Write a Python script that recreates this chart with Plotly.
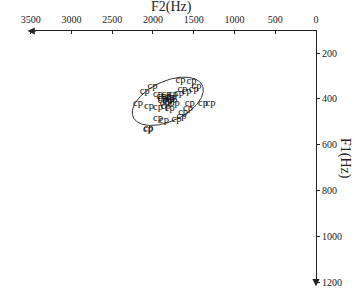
import numpy as np
import plotly.graph_objects as go

# F2 (Hz) and F1 (Hz) of each "cp" token
f2 = [1662, 1527, 2101, 2006, 1937, 1834, 1753, 1638, 1588, 1499, 1466, 1883, 1794,
      1732, 1855, 2183, 2048, 1937, 1843, 1794, 1630, 1548, 1569, 1385, 1294, 1937,
      1864, 1711, 1650, 2060, 2055, 1834, 1679, 1800, 1820, 1770, 1880, 1760, 1900]
f1 = [320, 325, 368, 347, 380, 380, 380, 358, 368, 358, 347, 397, 401,
      419, 419, 419, 433, 438, 433, 440, 460, 419, 440, 419, 419, 484,
      491, 488, 477, 532, 528, 390, 375, 395, 410, 392, 405, 408, 388]
labels = ["cp"] * len(f2)

x_ticks = [3500, 3000, 2500, 2000, 1500, 1000, 500, 0]
y_ticks = [200, 400, 600, 800, 1000, 1200]

# ellipse parameters (centre in Hz, semi-axes in pixels, tilt)
ell_c2, ell_c1 = 1818, 410
px_per_hz_x, px_per_hz_y = 0.0814, 0.23
a_px, b_px, theta = 38, 20, np.deg2rad(25)
t = np.linspace(0, 2 * np.pi, 200)
dx = a_px * np.cos(t) * np.cos(theta) - b_px * np.sin(t) * np.sin(theta)
dy = -(a_px * np.cos(t) * np.sin(theta) + b_px * np.sin(t) * np.cos(theta))
ell_x = ell_c2 - dx / px_per_hz_x
ell_y = ell_c1 + dy / px_per_hz_y

fig = go.Figure()
fig.add_trace(go.Scatter(x=ell_x, y=ell_y, mode="lines",
                         line=dict(color="#333", width=1), hoverinfo="skip"))
fig.add_trace(go.Scatter(x=f2, y=f1, mode="text", text=labels,
                         textfont=dict(family="Liberation Serif", size=10.5, color="#111")))

font = dict(family="Liberation Serif", size=10, color="#222")
fig.update_layout(
    width=356, height=304, margin=dict(l=29, r=40, t=31, b=19),
    paper_bgcolor="white", plot_bgcolor="white", showlegend=False,
    xaxis=dict(range=[3520, 0], side="top", tickvals=x_ticks, ticks="inside",
               ticklen=3, tickcolor="#222", showline=True, linecolor="#222",
               showgrid=False, zeroline=False, tickfont=font, ticklabelstandoff=3),
    yaxis=dict(range=[1210, 104], side="right", tickvals=y_ticks, ticks="outside",
               ticklen=3, tickcolor="#222", showline=True, linecolor="#222",
               showgrid=False, zeroline=False, tickfont=font, ticklabelstandoff=0),
    annotations=[
        dict(text="F2(Hz)", xref="paper", yref="paper", x=0.495, y=1.0,
             xanchor="center", yanchor="middle", yshift=24,
             showarrow=False, font=dict(family="Liberation Serif", size=14, color="#222")),
        dict(text="F1(Hz)", xref="paper", yref="paper", x=1.0, xshift=29, y=0.5,
             xanchor="center", yanchor="middle", textangle=90, showarrow=False,
             font=dict(family="Liberation Serif", size=14, color="#222")),
        dict(x=-0.005, y=1.0, xref="x domain", yref="y domain", ax=0.03, ay=1.0,
             axref="x domain", ayref="y domain", showarrow=True, arrowhead=2,
             arrowsize=1.2, arrowwidth=1.2, arrowcolor="#222", text=""),
        dict(x=1.0, y=-0.005, xref="x domain", yref="y domain", ax=1.0, ay=0.03,
             axref="x domain", ayref="y domain", showarrow=True, arrowhead=2,
             arrowsize=1.2, arrowwidth=1.2, arrowcolor="#222", text=""),
    ],
)
fig.write_html("out.html")
